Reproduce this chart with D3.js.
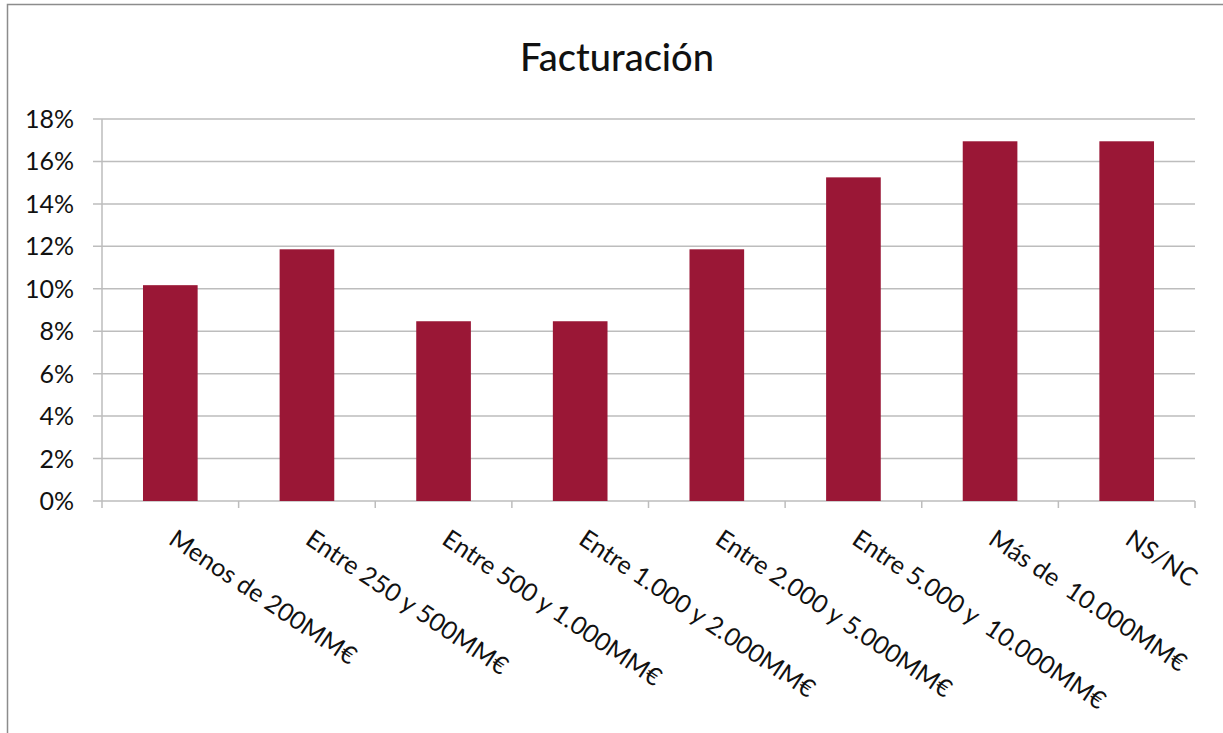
<!DOCTYPE html>
<html><head><meta charset="utf-8">
<script src="https://cdn.jsdelivr.net/npm/d3@7"></script>
<style>body{margin:0;background:#fff}svg{display:block}</style>
</head><body>
<script>
const categories = ["Menos de 200MM€","Entre 250 y 500MM€","Entre 500 y 1.000MM€","Entre 1.000 y 2.000MM€","Entre 2.000 y 5.000MM€","Entre 5.000 y  10.000MM€","Más de  10.000MM€","NS/NC"];
const values = [10.17, 11.86, 8.47, 8.47, 11.86, 15.25, 16.95, 16.95];
const yTicks = [0,2,4,6,8,10,12,14,16,18];
const title = "Facturación";

(function(){
const W=1223,H=733;
const svg=d3.select("body").append("svg").attr("width",W).attr("height",H);
const font="Lato, 'Open Sans', sans-serif";
// frame
svg.append("path").attr("d",`M7.5,${H} V4.5 H${W}`).attr("fill","none").attr("stroke","#8c8c8c").attr("stroke-width",1.5);

const pL=102,pR=1195,pT=119,pB=501;
const x=d3.scaleBand().domain(categories).range([pL,pR]).paddingInner(0.6).paddingOuter(0.3);
const xb=d3.scaleBand().domain(categories).range([pL,pR]);
const y=d3.scaleLinear().domain([0,18]).range([pB,pT]);

// gridlines
svg.append("g").selectAll("line").data(yTicks).join("line")
  .attr("x1",93).attr("x2",pR).attr("y1",d=>y(d)).attr("y2",d=>y(d))
  .attr("stroke","#bdbdbd").attr("stroke-width",1.5);
// y axis line
svg.append("line").attr("x1",pL).attr("x2",pL).attr("y1",pT).attr("y2",pB+7).attr("stroke","#bdbdbd").attr("stroke-width",1.5);
// y labels
svg.append("g").selectAll("text").data(yTicks).join("text")
  .attr("x",74).attr("y",d=>y(d)).attr("dy","0.36em").attr("text-anchor","end")
  .attr("font-family",font).attr("font-size",25).attr("fill","#111").text(d=>d+"%");
// x ticks
const bounds=categories.map(c=>xb(c)+xb.bandwidth());
svg.append("g").selectAll("line").data(bounds).join("line")
  .attr("x1",d=>d).attr("x2",d=>d).attr("y1",pB).attr("y2",pB+7)
  .attr("stroke","#bdbdbd").attr("stroke-width",1.5);
// bars
svg.append("g").selectAll("rect").data(values).join("rect")
  .attr("x",(d,i)=>x(categories[i])).attr("width",x.bandwidth())
  .attr("y",d=>y(d)).attr("height",d=>pB-y(d)).attr("fill","#9a1736");
// x labels
svg.append("g").selectAll("text").data(categories).join("text")
  .attr("transform",c=>`translate(${xb(c)+xb.bandwidth()/2-3},${pB+42}) rotate(34)`)
  .attr("font-family",font).attr("font-size",25).attr("fill","#111")
  .attr("text-anchor","start").style("white-space","pre").text(c=>c);
// title
svg.append("text").attr("x",617).attr("y",71).attr("text-anchor","middle")
  .attr("font-family",font).attr("font-size",38).attr("font-weight",500).attr("fill","#111").text(title);
})();
</script>
</body></html>
